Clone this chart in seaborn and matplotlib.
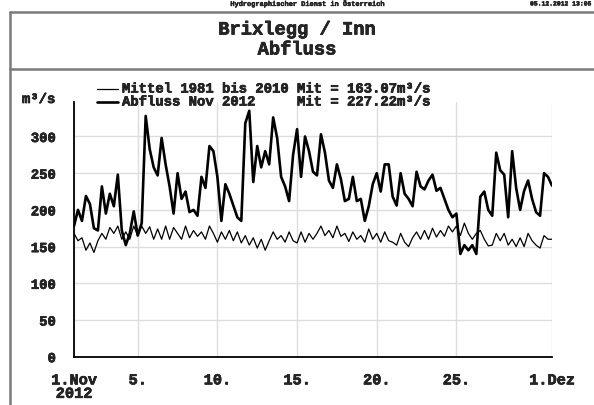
import pandas as pd
import numpy as np
import matplotlib
matplotlib.use('Agg')
import matplotlib.pyplot as plt
import matplotlib.dates as mdates
import matplotlib.patheffects as pe
from matplotlib.lines import Line2D
import seaborn as sns

# 6-stündliche Werte ab 1.11.2012 00:00 (m³/s)
abfluss = [
    178, 200, 185, 219,  208, 175, 172, 232,  195, 222, 205, 248,
    172, 152, 168, 198,  165, 182, 328, 283,  258, 247, 298, 262,
    232, 195, 250, 215,  225, 197, 200, 192,  245, 230, 287, 280,
    245, 185, 235, 222,  206, 190, 185, 318,  335, 238, 287, 258,
    280, 262, 326, 298,  245, 232, 212, 275,  310, 245, 300, 280,
    252, 247, 303, 278,  240, 230, 262, 242,  212, 215, 245, 212,
    215, 185, 205, 235,  250, 225, 262, 262,  218, 206, 250, 222,
    215, 205, 252, 232,  228, 240, 248, 226,  230, 215, 200, 190,
    195, 140, 152, 145,  152, 140, 218, 225,  200, 192, 278, 254,
    248, 190, 280, 230,  200, 226, 240, 215,  197, 192, 250, 245,
    233,
]
mittel = [
    168, 158, 162, 145,  155, 142, 158, 168,  160, 176, 168, 178,
    160, 170, 160, 178,  165, 178, 168, 177,  160, 174, 160, 178,
    160, 176, 168, 160,  178, 162, 172, 164,  170, 160, 178, 168,
    156, 170, 160, 172,  158, 170, 155, 165,  152, 162, 148, 160,
    145, 158, 170, 160,  165, 156, 170, 158,  155, 170, 156, 168,
    160, 168, 178, 165,  172, 162, 178, 164,  168, 157, 170, 160,
    165, 156, 174, 160,  168, 156, 170, 158,  156, 152, 168, 156,
    150, 162, 170, 160,  172, 160, 175, 163,  172, 164, 178, 170,
    178, 165, 182, 168,  160, 168, 172, 160,  151, 152, 168, 158,
    168, 152, 160, 150,  162, 150, 168, 158,  152, 148, 165, 160,
    160,
]
tick_daten = ['2012-11-01', '2012-11-05', '2012-11-10', '2012-11-15',
              '2012-11-20', '2012-11-25', '2012-12-01']
tick_labels = ['1.Nov\n2012', '5.', '10.', '15.', '20.', '25.', '1.Dez']
legende = ['Mittel 1981 bis 2010 Mit = 163.07m³/s',
           'Abfluss Nov 2012     Mit = 227.22m³/s']

zeit = pd.date_range('2012-11-01', periods=len(abfluss), freq='6h')
df = pd.DataFrame({'zeit': zeit, 'abfluss': abfluss, 'mittel': mittel})

sns.set_style('white')
plt.rcParams['font.family'] = ['Liberation Mono', 'DejaVu Sans Mono']
plt.rcParams['font.weight'] = 'bold'

fett = [pe.withStroke(linewidth=0.45, foreground='black')]

fig = plt.figure(figsize=(5.94, 4.06), dpi=100)
ax = fig.add_axes([74/594, 1-357.7/406, 478/594, (357.7-103)/406])

sns.lineplot(data=df, x='zeit', y='mittel', ax=ax, color='black', linewidth=0.9)
sns.lineplot(data=df, x='zeit', y='abfluss', ax=ax, color='black', linewidth=1.9)

ax.set_xlim(zeit[0], zeit[-1])
ax.set_ylim(0, 347)
ax.set_xlabel('')
ax.set_ylabel('')

ax.set_xticks(pd.to_datetime(tick_daten))
ax.set_xticklabels(tick_labels, fontsize=11, fontweight='bold', linespacing=0.95)
ax.xaxis.set_minor_locator(mdates.DayLocator())
ax.set_yticks(np.arange(0, 301, 50))
ax.set_yticks(np.arange(0, 341, 10), minor=True)
for lab in ax.get_yticklabels():
    lab.set_fontsize(10)
    lab.set_fontweight('bold')
for lab in ax.get_xticklabels() + ax.get_yticklabels():
    lab.set_path_effects(fett)

ax.tick_params(axis='x', which='major', length=8, width=1.3, direction='out', pad=4)
ax.tick_params(axis='x', which='minor', length=3.5, width=1.0, direction='out')
ax.tick_params(axis='y', which='major', length=5, width=1.3, direction='out', pad=8)
ax.tick_params(axis='y', which='minor', length=3, width=1.0, direction='out')

ax.grid(True, which='major', color='#dddddd', linewidth=1.0)
for s in ['top', 'right']:
    ax.spines[s].set_visible(False)
for s in ['left', 'bottom']:
    ax.spines[s].set_color('black')
    ax.spines[s].set_linewidth(1.3)
ax.set_facecolor('white')

# Rahmen
rahmen = '#7a7a7a'
fig.add_artist(Line2D([10/594, 10/594], [0, 1-13/406], color=rahmen, lw=1.8))
fig.add_artist(Line2D([10/594, 1], [1-13/406, 1-13/406], color=rahmen, lw=1.8))
fig.add_artist(Line2D([10/594, 1], [1-70/406, 1-70/406], color=rahmen, lw=1.8))

# Kopf
klein = [pe.withStroke(linewidth=0.3, foreground='black')]
fig.text(309/594, 1-5/406, 'Hydrographischer Dienst in Österreich', ha='center', va='center',
         fontsize=5, fontweight='bold', path_effects=klein)
fig.text(592/594, 1-5/406, '05.12.2012 13:05', ha='right', va='center', fontsize=4.6,
         fontweight='bold', path_effects=klein)
fig.text(0.5, 1-31/406, 'Brixlegg / Inn', ha='center', va='center', fontsize=13.5,
         fontweight='bold', path_effects=fett)
fig.text(0.5, 1-51/406, 'Abfluss', ha='center', va='center', fontsize=13.5,
         fontweight='bold', path_effects=fett)

# Legende
for i, (txt, lw) in enumerate(zip(legende, [0.9, 1.9])):
    y = 1 - (89.5 + 13*i)/406
    fig.add_artist(Line2D([97/594, 118/594], [y, y], color='black', lw=lw))
    fig.text(122/594, y, txt, ha='left', va='center', fontsize=10, fontweight='bold',
             path_effects=fett)

fig.text(22/594, 1-100/406, 'm³/s', ha='left', va='center', fontsize=10, fontweight='bold',
         path_effects=fett)

fig.savefig('out.png', dpi=100, facecolor='white')
